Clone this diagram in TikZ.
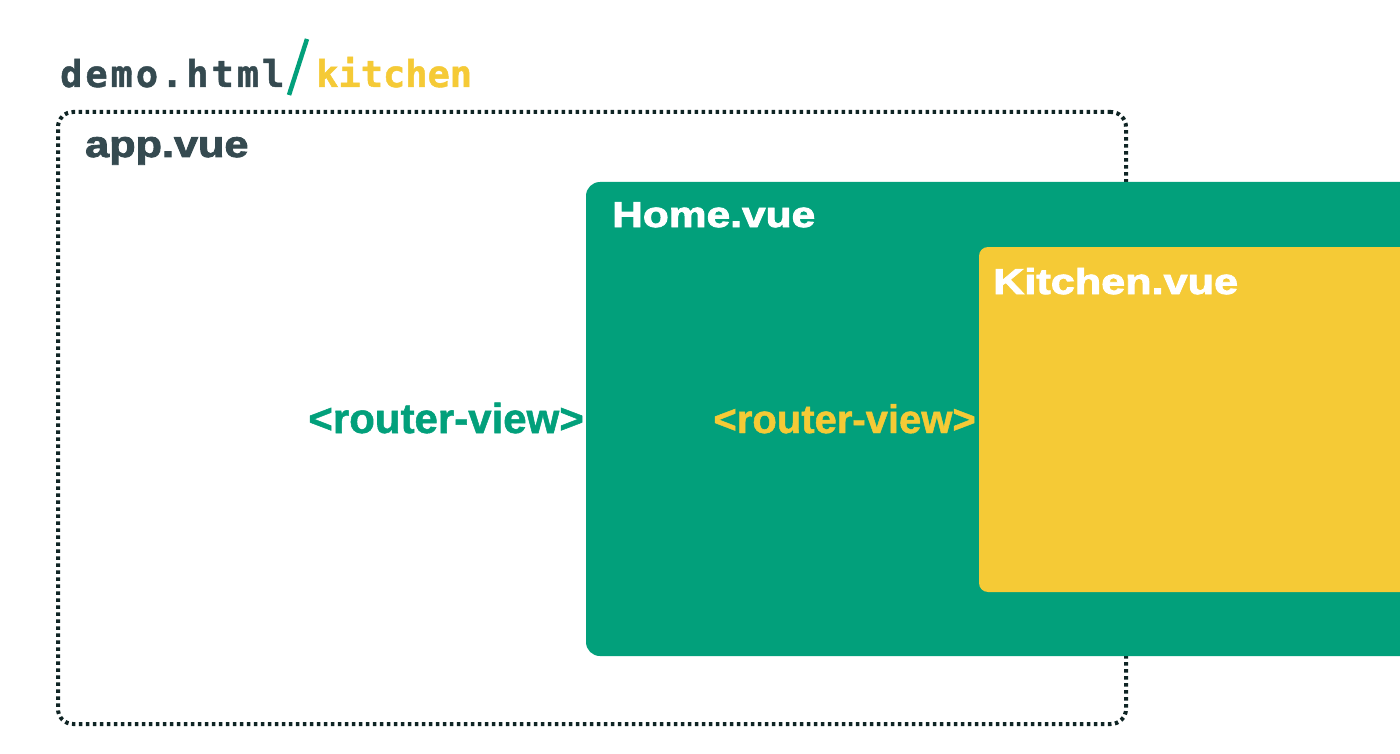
\documentclass[tikz,border=0pt]{standalone}
\usepackage{fontspec}
\newfontfamily\labelfont[FakeBold=1.2]{Liberation Sans Bold}
\newfontfamily\heavyfont[FakeBold=2.2]{Liberation Sans Bold}
\newfontfamily\pathfont[LetterSpace=8, FakeBold=1.2]{DejaVu Sans Mono Bold}
\newfontfamily\routefont[FakeBold=1.2]{DejaVu Sans Mono Bold}
\definecolor{vuegreen}{HTML}{02A07B}
\definecolor{vueyellow}{HTML}{F5CA36}
\definecolor{slate}{HTML}{354A50}
\definecolor{dotline}{HTML}{0F2424}
\tikzset{
  appbox/.style={draw=dotline, line width=4pt, dash pattern=on 3.5pt off 3.5pt,
    rounded corners=15pt, inner sep=0pt},
  homebox/.style={fill=vuegreen, rounded corners=14pt, inner sep=0pt},
  kitchenbox/.style={fill=vueyellow, rounded corners=9pt, inner sep=0pt},
  title/.style={inner sep=0pt, anchor=base west, font=\heavyfont\fontsize{36}{40}\selectfont},
  routerview/.style={inner sep=0pt, anchor=base east},
  pathtext/.style={inner sep=0pt, anchor=base west}
}
\begin{document}
\begin{tikzpicture}[x=1pt,y=-1pt]
\useasboundingbox (0,0) rectangle (1400,754);
\clip (0,0) rectangle (1400,754);
\fill[white] (0,0) rectangle (1400,754);

% nested component boxes
\node[appbox, minimum width=1068pt, minimum height=612pt] (app) at (592,418) {};
\node[homebox, minimum width=860pt, minimum height=474pt] (home) at (1016,419) {};
\node[kitchenbox, minimum width=460pt, minimum height=345pt] (kitchen) at (1209,419.5) {};

% URL heading
\node[pathtext, text=slate, font=\pathfont\fontsize{37}{40}\selectfont] (demo) at (60,87) {demo.html};
\coordinate (slashtop) at (307,39);
\coordinate (slashbot) at (289,95);
\draw[vuegreen, line width=4.5pt] (slashbot) -- (slashtop);
\node[pathtext, text=vueyellow, font=\routefont\fontsize{37}{40}\selectfont] (route) at (316,87) {kitchen};

% component titles
\node[title, text=slate] (applabel) at (85,157) {\scalebox{1.2}[1.03]{app.vue}};
\node[title, text=white] (homelabel) at (612,227) {\scalebox{1.18}[1]{Home.vue}};
\node[title, text=white] (kitchenlabel) at (993,294) {\scalebox{1.2}[1]{Kitchen.vue}};

% router outlets
\node[routerview, text=vuegreen, font=\labelfont\fontsize{42}{46}\selectfont] (rv1) at (584,433) {<router-view>};
\node[routerview, text=vueyellow, font=\labelfont\fontsize{40}{44}\selectfont] (rv2) at (976,433) {<router-view>};
\end{tikzpicture}
\end{document}
